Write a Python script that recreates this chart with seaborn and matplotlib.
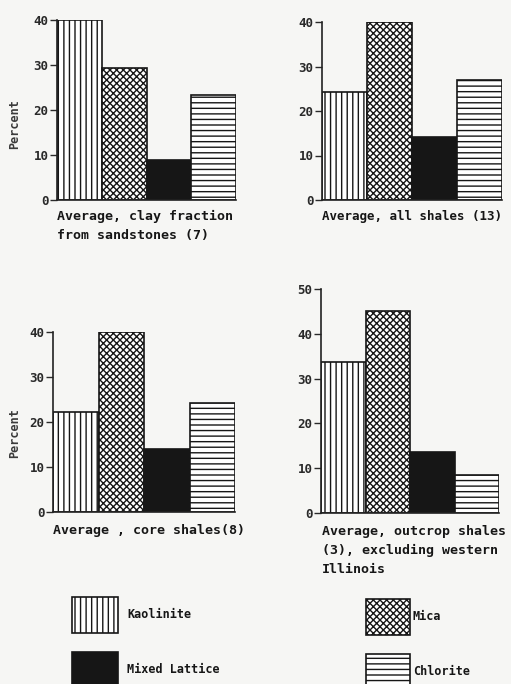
import matplotlib
matplotlib.use("Agg")
import matplotlib.pyplot as plt
import seaborn as sns
import pandas as pd

minerals = ["Kaolinite", "Mica", "Mixed Lattice", "Chlorite"]
sandstones = [40, 29.3, 9.0, 23.3]
all_shales = [24.2, 40, 14.2, 27.0]
core_shales = [22.2, 40, 14.0, 24.2]
outcrop_shales = [33.7, 45.1, 13.6, 8.5]

titles = [
    "Average, clay fraction\nfrom sandstones (7)",
    "Average, all shales (13)",
    "Average , core shales(8)",
    "Average, outcrop shales\n(3), excluding western\nIllinois",
]
title_size = [9.5, 9.0, 9.5, 9.5]
y_max = [40, 40, 40, 50]

BG = "#f6f6f4"
INK = "#161616"
fills = {"Kaolinite": "white", "Mica": "white", "Mixed Lattice": INK, "Chlorite": "white"}
hatches = ["|||", "xxxxx", "", "---"]

sns.set_theme(style="white")
plt.rcParams["font.family"] = ["DejaVu Sans Mono", "DejaVu Sans"]
plt.rcParams["hatch.linewidth"] = 1.0

W, H = 511, 684
fig = plt.figure(figsize=(W / 100, H / 100), dpi=100, facecolor=BG)

# axes boxes in pixels: left, top(y of max), right, bottom(y of 0)
boxes = [(57, 20, 236, 200), (322, 22, 502, 200), (53, 332, 235, 512), (321, 289, 499, 513)]
title_pos = [(57, 210), (322, 210), (53, 524), (322, 525)]
label_frac = [0.42, None, 0.44, None]
datasets = [sandstones, all_shales, core_shales, outcrop_shales]

axes = []
for i, (vals, box) in enumerate(zip(datasets, boxes)):
    l, t, r, b = box
    ax = fig.add_axes([l / W, 1 - b / H, (r - l) / W, (b - t) / H])
    ax.set_facecolor(BG)
    df = pd.DataFrame({"mineral": minerals, "pct": vals})
    sns.barplot(data=df, x="mineral", y="pct", hue="mineral", palette=fills,
                width=1.0, edgecolor=INK, linewidth=1.2, saturation=1,
                legend=False, ax=ax)
    for p, h in zip(ax.patches, hatches):
        p.set_hatch(h)
    ax.set_xlim(-0.5, 3.5)
    ax.set_ylim(0, y_max[i])
    ax.set_yticks(range(0, y_max[i] + 1, 10))
    ax.set_xticks([])
    ax.set_xlabel("")
    for s in ["top", "right"]:
        ax.spines[s].set_visible(False)
    for s in ["left", "bottom"]:
        ax.spines[s].set_color("#222222")
        ax.spines[s].set_linewidth(1.2)
    ax.tick_params(axis="y", direction="out", length=5, width=1, labelsize=9,
                   pad=1, left=True, colors="#2a2a2a")
    for lab in ax.get_yticklabels():
        lab.set_fontweight("bold")
    if label_frac[i] is not None:
        ax.set_ylabel("Percent", fontsize=8.5, color="#3a3a3a", fontweight="bold")
        ax.yaxis.set_label_coords((21 - l) / (r - l), label_frac[i])
    else:
        ax.set_ylabel("")
    tx, ty = title_pos[i]
    fig.text(tx / W, 1 - ty / H, titles[i], ha="left", va="top",
             fontsize=title_size[i], fontweight="bold", linespacing=1.6, color=INK)
    axes.append(ax)

pt = axes[0].patches
leg1 = fig.legend(handles=[pt[0], pt[2]], labels=[minerals[0], minerals[2]],
                  loc="upper left", bbox_to_anchor=(72 / W, 1 - 597 / H),
                  frameon=False, handlelength=3.9, handleheight=4.3,
                  labelspacing=1.6, handletextpad=0.8, borderpad=0,
                  borderaxespad=0, prop={"size": 8.5, "weight": "bold"})
leg2 = fig.legend(handles=[pt[1], pt[3]], labels=[minerals[1], minerals[3]],
                  loc="upper left", bbox_to_anchor=(366 / W, 1 - 599 / H),
                  frameon=False, handlelength=3.7, handleheight=4.3,
                  labelspacing=1.6, handletextpad=0.25, borderpad=0,
                  borderaxespad=0, prop={"size": 8.5, "weight": "bold"})
for leg in (leg1, leg2):
    for txt in leg.get_texts():
        txt.set_color(INK)

fig.savefig("out.png", dpi=100, facecolor=BG)
